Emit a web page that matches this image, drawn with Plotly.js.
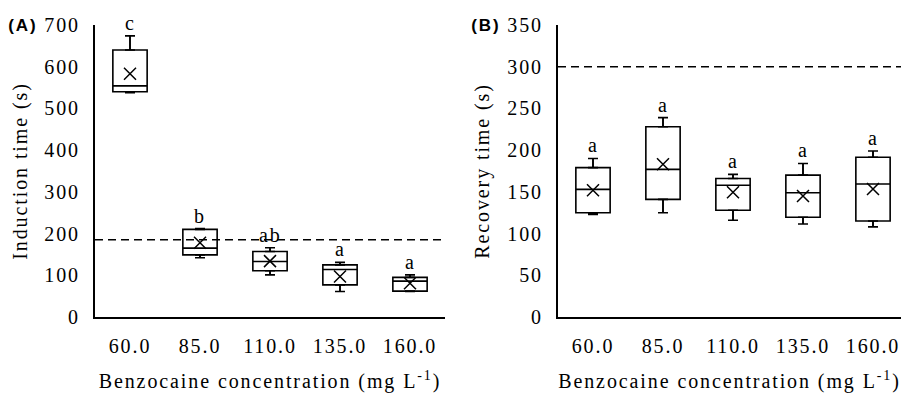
<!DOCTYPE html>
<html>
<head>
<meta charset="utf-8">
<script src="https://cdn.plot.ly/plotly-3.0.1.min.js"></script>
<style>
html,body{margin:0;padding:0;background:#fff;}
#chart{width:901px;height:394px;}
#chart text{letter-spacing:1.9px;}
</style>
</head>
<body>
<div id="chart"></div>
<script>
const categories = ['60.0', '85.0', '110.0', '135.0', '160.0'];

// Panel A: induction time (s)
const indMin    = [538, 142, 101, 61, 61];
const indQ1     = [540, 149, 111, 77, 62];
const indMedian = [554, 165, 133, 114, 86];
const indQ3     = [640, 210, 157, 125, 95];
const indMax    = [674, 212, 166, 131, 101];
const indMean   = [583, 178, 134, 97, 81];
const indLetters = ['c', 'b', 'ab', 'a', 'a'];
const indThreshold = 185;

// Panel B: recovery time (s)
const recMin    = [123, 125, 116, 111.5, 108];
const recQ1     = [125, 141, 128, 119.5, 115];
const recMedian = [153, 177, 158, 149, 159.5];
const recQ3     = [179, 228, 166, 170, 191.5];
const recMax    = [190, 239, 171, 184, 199];
const recMean   = [152, 183, 149.5, 145, 153.5];
const recLetters = ['a', 'a', 'a', 'a', 'a'];
const recThreshold = 300;

const SERIF = 'Liberation Serif';
const SANS = 'Liberation Sans';
const black = '#000000';

function serifFont(sz) { return {family: SERIF, size: sz, color: black}; }

function panelTraces(xa, ya, mn, q1, med, q3, mx, mean) {
  const box = {
    type: 'box', xaxis: xa, yaxis: ya,
    x: categories, q1: q1, median: med, q3: q3,
    lowerfence: mn, upperfence: mx,
    width: 0.49,
    fillcolor: 'rgba(255,255,255,0)',
    line: {color: black, width: 1.6},
    whiskerwidth: 0,
    boxpoints: false, hoverinfo: 'skip', showlegend: false
  };
  const upCaps = {
    type: 'scatter', mode: 'markers', xaxis: xa, yaxis: ya,
    x: categories, y: q3,
    marker: {size: 1, color: 'rgba(0,0,0,0)'},
    error_y: {type: 'data', symmetric: false,
      array: mx.map((v, i) => v - q3[i]), arrayminus: mx.map(() => 0),
      color: black, thickness: 1.6, width: 5},
    hoverinfo: 'skip', showlegend: false
  };
  const lowCaps = {
    type: 'scatter', mode: 'markers', xaxis: xa, yaxis: ya,
    x: categories, y: q1,
    marker: {size: 1, color: 'rgba(0,0,0,0)'},
    error_y: {type: 'data', symmetric: false,
      array: mn.map(() => 0), arrayminus: mn.map((v, i) => q1[i] - v),
      color: black, thickness: 1.6, width: 5},
    hoverinfo: 'skip', showlegend: false
  };
  const means = {
    type: 'scatter', mode: 'markers', xaxis: xa, yaxis: ya,
    x: categories, y: mean,
    marker: {symbol: 'x-thin-open', size: 12, color: black, line: {color: black, width: 1.5}},
    hoverinfo: 'skip', showlegend: false
  };
  return [box, upCaps, lowCaps, means];
}

const data = [].concat(
  panelTraces('x', 'y', indMin, indQ1, indMedian, indQ3, indMax, indMean),
  panelTraces('x2', 'y2', recMin, recQ1, recMedian, recQ3, recMax, recMean)
);

function letterAnns(xref, yref, mx, letters) {
  return letters.map((t, i) => ({
    xref: xref, yref: yref, x: i, y: mx[i],
    text: t, showarrow: false, yanchor: 'bottom', yshift: 0,
    font: serifFont(20)
  }));
}

const yDomain = [(394 - 317) / 394, (394 - 25) / 394];

function xAxis(domain, anchor, range) {
  return {
    domain: domain, anchor: anchor,
    type: 'category', categoryarray: categories, range: range,
    showgrid: false, zeroline: false,
    showline: true, linecolor: black, linewidth: 2, ticks: '',
    tickfont: serifFont(20),
    ticklabelstandoff: 10,
    title: {text: 'Benzocaine concentration (mg L<sup>-1</sup>)', font: serifFont(20), standoff: 18}
  };
}
function yAxis(anchor, range, dtick, text, standoff) {
  return {
    domain: yDomain, anchor: anchor, range: range, dtick: dtick, tick0: 0,
    showgrid: false, zeroline: false,
    showline: true, linecolor: black, linewidth: 2, ticks: '',
    tickfont: serifFont(20),
    ticklabelstandoff: 9,
    title: {text: text, font: serifFont(20), standoff: standoff}
  };
}

const layout = {
  width: 901, height: 394,
  margin: {l: 0, r: 0, t: 0, b: 0},
  paper_bgcolor: '#ffffff', plot_bgcolor: '#ffffff',
  showlegend: false,
  font: serifFont(20),
  xaxis: xAxis([95 / 901, 445 / 901], 'y', [-0.5, 4.5]),
  yaxis: yAxis('x', [0, 700], 100, 'Induction time (s)', 17),
  xaxis2: xAxis([558 / 901, 1], 'y2', [-0.5, 4.4]),
  yaxis2: yAxis('x2', [0, 350], 50, 'Recovery time (s)', 18),
  shapes: [
    {type: 'line', xref: 'x domain', yref: 'y', x0: 0, x1: 1, y0: indThreshold, y1: indThreshold,
     line: {color: black, width: 1.5, dash: '8px,5px'}},
    {type: 'line', xref: 'x2 domain', yref: 'y2', x0: 0, x1: 1, y0: recThreshold, y1: recThreshold,
     line: {color: black, width: 1.5, dash: '8px,5px'}}
  ],
  annotations: [].concat(
    letterAnns('x', 'y', indMax, indLetters),
    letterAnns('x2', 'y2', recMax, recLetters),
    [
      {xref: 'paper', yref: 'paper', x: 9 / 901, y: (394 - 25) / 394, xanchor: 'left', yanchor: 'middle',
       text: '<b>(A)</b>', showarrow: false, font: {family: SANS, size: 17, color: black}},
      {xref: 'paper', yref: 'paper', x: 472 / 901, y: (394 - 25) / 394, xanchor: 'left', yanchor: 'middle',
       text: '<b>(B)</b>', showarrow: false, font: {family: SANS, size: 17, color: black}}
    ]
  )
};

Plotly.newPlot('chart', data, layout, {staticPlot: true, displayModeBar: false});
</script>
</body>
</html>
